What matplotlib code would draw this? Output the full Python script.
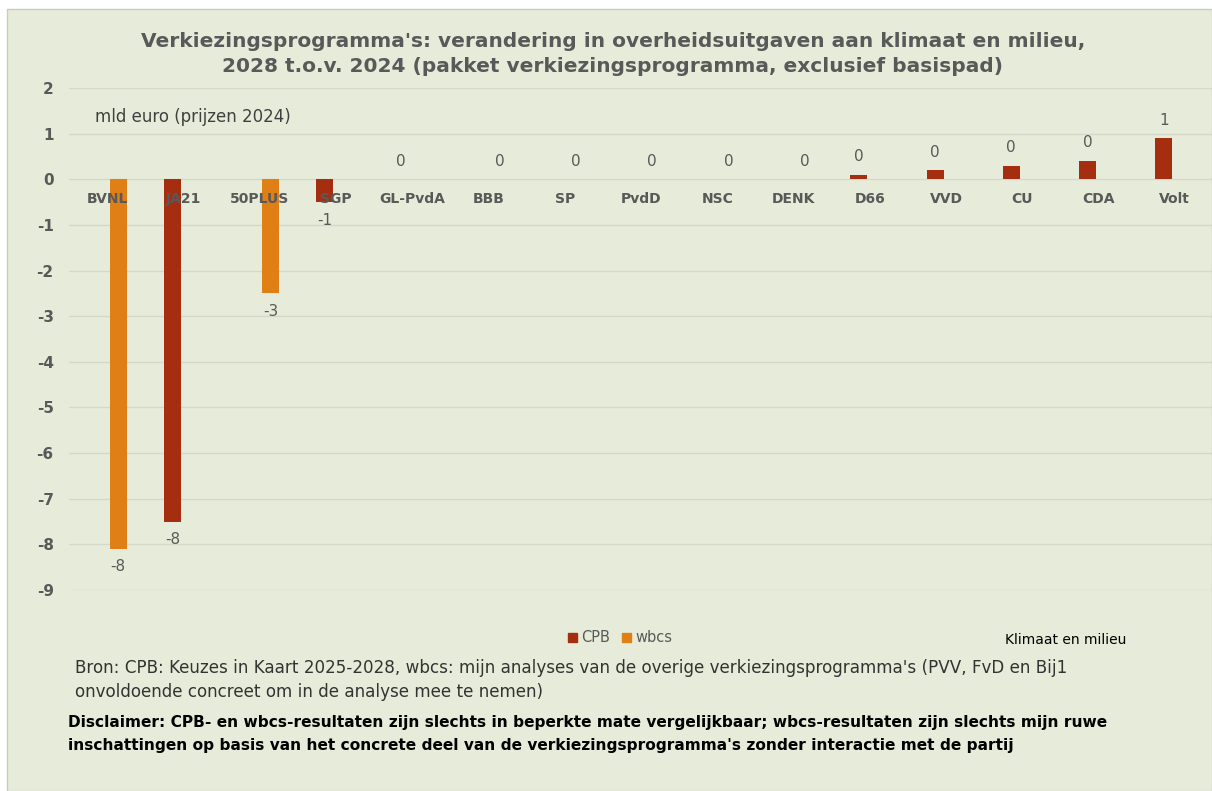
import math
import numpy as np
import matplotlib
matplotlib.use("Agg")
import matplotlib.pyplot as plt
from matplotlib.patches import Rectangle, Patch

# partijen en waarden (mld euro, prijzen 2024)
partijen = ["BVNL", "JA21", "50PLUS", "SGP", "GL-PvdA", "BBB", "SP", "PvdD",
            "NSC", "DENK", "D66", "VVD", "CU", "CDA", "Volt"]
cpb = [np.nan, -7.5, np.nan, -0.5, 0.0, np.nan, np.nan, np.nan,
       np.nan, np.nan, 0.1, 0.2, 0.3, 0.4, 0.9]
wbcs = [-8.1, np.nan, -2.5, np.nan, np.nan, 0.0, 0.0, 0.0,
        0.0, 0.0, np.nan, np.nan, np.nan, np.nan, np.nan]

titel = ("Verkiezingsprogramma's: verandering in overheidsuitgaven aan klimaat en milieu,\n"
         "2028 t.o.v. 2024 (pakket verkiezingsprogramma, exclusief basispad)")
bron = ("Bron: CPB: Keuzes in Kaart 2025-2028, wbcs: mijn analyses van de overige verkiezingsprogramma's (PVV, FvD en Bij1\n"
        "onvoldoende concreet om in de analyse mee te nemen)")
disclaimer = ("Disclaimer: CPB- en wbcs-resultaten zijn slechts in beperkte mate vergelijkbaar; wbcs-resultaten zijn slechts mijn ruwe\n"
              "inschattingen op basis van het concrete deel van de verkiezingsprogramma's zonder interactie met de partij")

KLEUR_CPB = "#A52D10"
KLEUR_WBCS = "#E07F16"
GRIJS = "#595959"
BG = "#E6ECD9"

plt.rcParams['font.family'] = ['DejaVu Sans']
plt.rcParams['axes.unicode_minus'] = False

W, H = 1212, 791
fig = plt.figure(figsize=(W / 100, H / 100), dpi=100)
fig.patch.set_facecolor("white")
fig.patches.append(Rectangle((7 / W, 0), 1 - 7 / W, 1 - 9 / H, transform=fig.transFigure,
                             facecolor=BG, edgecolor="#C8CCC0", lw=1, zorder=-5))

ax = fig.add_axes([69 / W, 1 - 590 / H, 1144 / W, 502 / H])
ax.set_facecolor("none")
ax.set_zorder(2)


def rond(v):
    # Excel-achtige afronding (weg van nul)
    r = math.floor(abs(v) + 0.5)
    return str(int(math.copysign(r, v))) if r != 0 else "0"


x = np.arange(len(partijen))
bw = 0.223
off = 0.145
ax.bar(x - off, cpb, bw, color=KLEUR_CPB, zorder=3)
ax.bar(x + off, wbcs, bw, color=KLEUR_WBCS, zorder=3)

# categorielabels net onder de nullijn
for i, p in enumerate(partijen):
    ax.annotate(p, (i, 0), xytext=(0, -14), textcoords="offset points",
                ha="center", va="center", fontsize=10, fontweight="bold",
                color=GRIJS, zorder=4)

# data labels
for serie, dx in ((cpb, -off), (wbcs, off)):
    for i, v in enumerate(serie):
        if np.isnan(v):
            continue
        dy = 13 if v >= 0 else -13
        ax.annotate(rond(v), (i + dx, v), xytext=(0, dy), textcoords="offset points",
                    ha="center", va="center", fontsize=11, color=GRIJS, zorder=4)

ax.set_xlim(-0.5, len(partijen) - 0.5)
ax.set_ylim(-9, 2)
ax.set_yticks(range(-9, 3))
ax.set_xticks([])
ax.tick_params(axis="y", length=0, pad=11, labelsize=11, labelcolor=GRIJS)
for lab in ax.get_yticklabels():
    lab.set_fontweight("bold")
ax.grid(axis="y", color="#D3D8C8", lw=1, zorder=0)
ax.set_axisbelow(True)
for s in ax.spines.values():
    s.set_visible(False)

fig.text(95 / W, 1 - 117 / H, "mld euro (prijzen 2024)", ha="left", va="center",
         fontsize=12, color="#404040")

fig.text(613 / W, 1 - 54 / H, titel, ha="center", va="center", fontsize=14.5,
         fontweight="bold", color=GRIJS, linespacing=1.35)

handles = [Patch(color=KLEUR_CPB, label="CPB"), Patch(color=KLEUR_WBCS, label="wbcs")]
fig.legend(handles=handles, loc="center", bbox_to_anchor=(620 / W, 1 - 638 / H), ncol=2,
           frameon=False, fontsize=10.5, handlelength=0.6, handleheight=0.6,
           handletextpad=0.3, columnspacing=0.8, labelcolor=GRIJS)

fig.text(1005 / W, 1 - 640 / H, "Klimaat en milieu", ha="left", va="center",
         fontsize=10, color="black")

fig.text(75 / W, 1 - 680 / H, bron, ha="left", va="center", fontsize=12.1,
         color="#333333", linespacing=1.45)
fig.text(68 / W, 1 - 734 / H, disclaimer, ha="left", va="center", fontsize=11.1,
         fontweight="bold", color="black", linespacing=1.6)

fig.savefig("out.png", dpi=100)
